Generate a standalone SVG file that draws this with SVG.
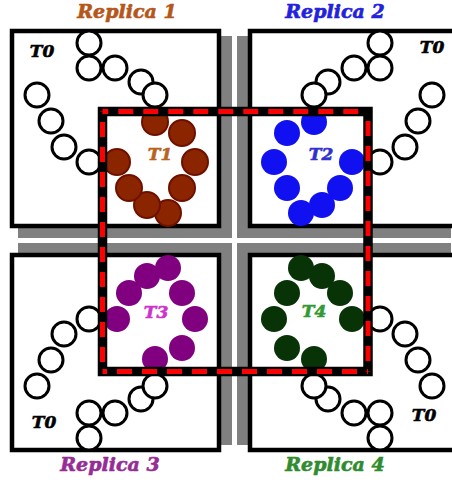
<svg xmlns="http://www.w3.org/2000/svg" width="452" height="482" viewBox="0 0 452 482">
  <style>
    .shadow { fill: #808080; }
    .box { fill: #ffffff; stroke: #000000; stroke-width: 4.5; }
    .t0 { fill: #ffffff; stroke: #000000; stroke-width: 3; }
    .title, .lbl { font-family: "DejaVu Serif", "Liberation Serif", serif; font-weight: bold; font-style: italic; text-anchor: middle; fill: currentColor; stroke: currentColor; stroke-width: 0.6; }
    .title { font-size: 19px; }
    .lbl { font-size: 17px; }
    .c1 { fill: #8b2500; stroke: #6e1000; stroke-width: 2; }
    .c2 { fill: #1010f0; }
    .c3 { fill: #800080; }
    .c4 { fill: #073307; }
    .frame { fill: none; stroke: #000000; stroke-width: 9.5; }
    .dash { stroke: #ff0000; stroke-width: 5; stroke-dasharray: 15 10; fill: none; }
  </style>
  <defs>
    <!-- chain of nine T0 beads, drawn for the top-left quadrant -->
    <g id="chain0">
      <circle class="t0" cx="89" cy="43" r="12"/>
      <circle class="t0" cx="89" cy="68" r="12"/>
      <circle class="t0" cx="115" cy="68" r="12"/>
      <circle class="t0" cx="141" cy="82" r="12"/>
      <circle class="t0" cx="155" cy="95" r="12"/>
      <circle class="t0" cx="37" cy="95" r="12"/>
      <circle class="t0" cx="51" cy="121" r="12"/>
      <circle class="t0" cx="64" cy="147" r="12"/>
      <circle class="t0" cx="89" cy="162" r="12"/>
    </g>
    <!-- ring of eight beads for the sampled state -->
    <g id="ring">
      <circle cx="155" cy="122" r="13"/>
      <circle cx="182" cy="133" r="13"/>
      <circle cx="195" cy="162" r="13"/>
      <circle cx="182" cy="188" r="13"/>
      <circle cx="168" cy="213" r="13"/>
      <circle cx="147" cy="205" r="13"/>
      <circle cx="129" cy="188" r="13"/>
      <circle cx="117" cy="162" r="13"/>
    </g>
  </defs>

  <rect width="452" height="482" fill="#ffffff"/>

  <g id="replica1">
    <rect class="shadow" x="18" y="36" width="214" height="202"/>
    <rect class="box" x="12" y="31" width="207" height="195"/>
    <use href="#chain0"/>
    <use href="#ring" class="c1"/>
    <text class="title" x="127" y="18" style="color:#b5561a">Replica 1</text>
    <text class="lbl" x="42" y="57" style="color:#000000">T0</text>
    <text class="lbl" x="160" y="160" style="color:#b8621f">T1</text>
  </g>

  <g id="replica2">
    <rect class="shadow" x="237" y="36" width="214" height="202"/>
    <rect class="box" x="250" y="31" width="207" height="195"/>
    <g transform="translate(469,0) scale(-1,1)">
      <use href="#chain0"/>
      <use href="#ring" class="c2"/>
    </g>
    <text class="title" x="335" y="18" style="color:#2222dd">Replica 2</text>
    <text class="lbl" x="432" y="53" style="color:#000000">T0</text>
    <text class="lbl" x="321" y="160" style="color:#3030d0">T2</text>
  </g>

  <g id="replica3">
    <rect class="shadow" x="18" y="243" width="214" height="202"/>
    <rect class="box" x="12" y="255" width="207" height="195"/>
    <g transform="translate(0,481) scale(1,-1)">
      <use href="#chain0"/>
      <use href="#ring" class="c3"/>
    </g>
    <text class="title" x="110" y="471" style="color:#962c96">Replica 3</text>
    <text class="lbl" x="44" y="428" style="color:#000000">T0</text>
    <text class="lbl" x="156" y="318" style="color:#cc33cc">T3</text>
  </g>

  <g id="replica4">
    <rect class="shadow" x="237" y="243" width="214" height="202"/>
    <rect class="box" x="250" y="255" width="207" height="195"/>
    <g transform="translate(469,481) scale(-1,-1)">
      <use href="#chain0"/>
      <use href="#ring" class="c4"/>
    </g>
    <text class="title" x="335" y="471" style="color:#2e8b2e">Replica 4</text>
    <text class="lbl" x="424" y="421" style="color:#000000">T0</text>
    <text class="lbl" x="314" y="317" style="color:#339933">T4</text>
  </g>

  <!-- exchange window: black frame with red dashes -->
  <g id="connectors">
    <rect class="frame" x="102.5" y="111.5" width="265.5" height="260"/>
    <line class="dash" x1="102.5" y1="111.5" x2="368" y2="111.5" stroke-dashoffset="9.2"/>
    <line class="dash" x1="368" y1="111.5" x2="368" y2="371.5" stroke-dashoffset="15.5"/>
    <line class="dash" x1="102.5" y1="371.5" x2="368" y2="371.5" stroke-dashoffset="10.5"/>
    <line class="dash" x1="102.5" y1="111.5" x2="102.5" y2="371.5" stroke-dashoffset="14.5"/>
  </g>
</svg>
